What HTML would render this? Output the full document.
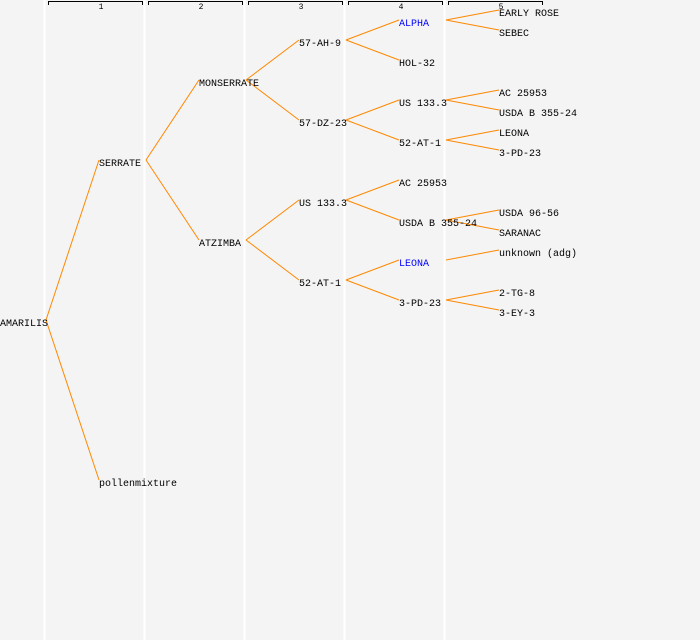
<!DOCTYPE html>
<html><head><style>
html,body{margin:0;padding:0;background:#f4f4f4;}
svg{display:block;}
text{font-family:"Liberation Mono","DejaVu Sans Mono",monospace;font-size:10px;fill:#000;}
</style></head><body>
<svg width="700" height="640" xmlns="http://www.w3.org/2000/svg">
<rect width="700" height="640" fill="#f4f4f4"/>
<g stroke="#ffffff" stroke-width="2">
<line x1="44.5" y1="0" x2="44.5" y2="640"/><line x1="144.5" y1="0" x2="144.5" y2="640"/>
<line x1="244.5" y1="0" x2="244.5" y2="640"/><line x1="344.5" y1="0" x2="344.5" y2="640"/>
<line x1="444.5" y1="0" x2="444.5" y2="640"/>
</g>
<g stroke="#000" fill="none" stroke-width="1">
<path d="M48.5,5V1.5H142.5V5"/><path d="M148.5,5V1.5H242.5V5"/><path d="M248.5,5V1.5H342.5V5"/>
<path d="M348.5,5V1.5H442.5V5"/><path d="M448.5,5V1.5H542.5V5"/>
</g>
<g text-anchor="middle">
<text x="101" y="9" style="font-size:8px">1</text><text x="201" y="9" style="font-size:8px">2</text>
<text x="301" y="9" style="font-size:8px">3</text><text x="401" y="9" style="font-size:8px">4</text>
<text x="501" y="9" style="font-size:8px">5</text>
</g>
<g stroke="#ff8800" stroke-width="1" fill="none">
<path d="M46,320L99,160M46,320L99,480"/>
<path d="M146,160L199,80M146,160L199,240"/>
<path d="M246,80L299,40M246,80L299,120M246,240L299,200M246,240L299,280"/>
<path d="M346,40L399,20M346,40L399,60M346,120L399,100M346,120L399,140M346,200L399,180M346,200L399,220M346,280L399,260M346,280L399,300"/>
<path d="M446,20L499,10M446,20L499,30M446,100L499,90M446,100L499,110M446,140L499,130M446,140L499,150M446,220L499,210M446,220L499,230M446,260L499,250M446,300L499,290M446,300L499,310"/>
</g>
<g>
<text x="0" y="326">AMARILIS</text>
<text x="99" y="166">SERRATE</text>
<text x="99" y="486">pollenmixture</text>
<text x="199" y="86">MONSERRATE</text>
<text x="199" y="246">ATZIMBA</text>
<text x="299" y="46">57-AH-9</text>
<text x="299" y="126">57-DZ-23</text>
<text x="299" y="206">US 133.3</text>
<text x="299" y="286">52-AT-1</text>
<text x="399" y="26" style="fill:#0000ff">ALPHA</text>
<text x="399" y="66">HOL-32</text>
<text x="399" y="106">US 133.3</text>
<text x="399" y="146">52-AT-1</text>
<text x="399" y="186">AC 25953</text>
<text x="399" y="226">USDA B 355-24</text>
<text x="399" y="266" style="fill:#0000ff">LEONA</text>
<text x="399" y="306">3-PD-23</text>
<text x="499" y="16">EARLY ROSE</text>
<text x="499" y="36">SEBEC</text>
<text x="499" y="96">AC 25953</text>
<text x="499" y="116">USDA B 355-24</text>
<text x="499" y="136">LEONA</text>
<text x="499" y="156">3-PD-23</text>
<text x="499" y="216">USDA 96-56</text>
<text x="499" y="236">SARANAC</text>
<text x="499" y="256">unknown (adg)</text>
<text x="499" y="296">2-TG-8</text>
<text x="499" y="316">3-EY-3</text>
</g>
</svg>
</body></html>
